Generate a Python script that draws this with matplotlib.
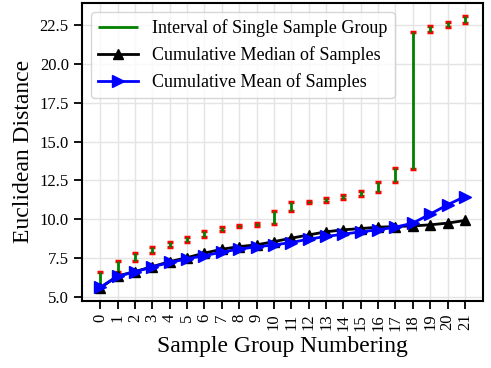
import numpy as np
import matplotlib
matplotlib.use('Agg')
import matplotlib.pyplot as plt

plt.rcParams['font.family'] = ['Liberation Serif', 'DejaVu Serif']

groups = np.arange(22)
interval_low = [5.62, 6.63, 7.32, 7.82, 8.24, 8.52, 8.85, 9.27, 9.49, 9.59, 9.70,
                10.54, 11.06, 11.12, 11.29, 11.49, 11.77, 12.39, 13.25, 22.03, 22.38, 22.64]
interval_high = [6.63, 7.32, 7.82, 8.24, 8.52, 8.85, 9.25, 9.51, 9.62, 9.75, 10.54,
                 11.10, 11.19, 11.34, 11.53, 11.81, 12.39, 13.27, 22.06, 22.46, 22.67, 23.10]
cum_median = [5.58, 6.35, 6.63, 6.95, 7.27, 7.53, 7.82, 8.07, 8.24, 8.35, 8.56,
              8.78, 8.99, 9.19, 9.32, 9.40, 9.49, 9.53, 9.57, 9.64, 9.75, 9.92]
cum_mean = [5.62, 6.33, 6.61, 6.93, 7.22, 7.45, 7.66, 7.88, 8.08, 8.22, 8.35,
            8.50, 8.72, 8.89, 9.04, 9.19, 9.32, 9.49, 9.75, 10.33, 10.93, 11.46]

fig = plt.figure(figsize=(4.91, 3.68), dpi=100)
ax = fig.add_axes([0.167, 0.183, 0.817, 0.809])

ax.vlines(groups, interval_low, interval_high, color='green', lw=2,
          label='Interval of Single Sample Group', zorder=3)
ax.plot(groups, interval_low, ls='none', marker='_', color='red', ms=5, mew=2.5, zorder=2)
ax.plot(groups, interval_high, ls='none', marker='_', color='red', ms=5, mew=2.5, zorder=2)
ax.plot(groups, cum_median, color='black', marker='^', ms=7, lw=2,
        label='Cumulative Median of Samples', zorder=4)
ax.plot(groups, cum_mean, color='blue', marker='>', ms=8, lw=2,
        label='Cumulative Mean of Samples', zorder=5)

ax.set_xlim(-1.05, 22.05)
ax.set_ylim(4.76, 23.92)
ax.set_xticks(groups)
ax.set_xticklabels([str(g) for g in groups], rotation=90)
ax.set_yticks(np.arange(5.0, 23.0, 2.5))
ax.set_yticklabels(['%.1f' % v for v in np.arange(5.0, 23.0, 2.5)])
ax.tick_params(labelsize=12, length=6, width=1.3)
ax.grid(True, color='#e4e4e4', lw=1)
ax.set_axisbelow(True)
for s in ax.spines.values():
    s.set_linewidth(1.5)

ax.set_xlabel('Sample Group Numbering', fontsize=17)
ax.set_ylabel('Euclidean Distance', fontsize=17)
ax.legend(loc='upper left', fontsize=13, handlelength=2.2, borderaxespad=0.5)

fig.savefig('out.png', dpi=100)
